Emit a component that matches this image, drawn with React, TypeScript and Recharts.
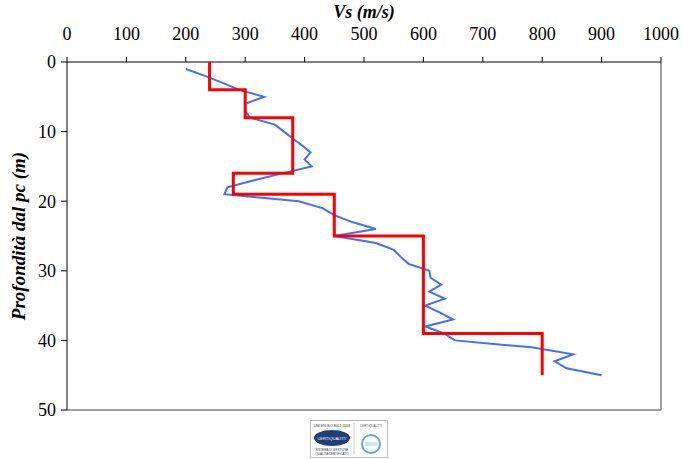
import { ScatterChart, Scatter, XAxis, YAxis, ReferenceLine, Label } from 'recharts'

// modello a strati (linea rossa)
const modelDepth = [0, 4, 4, 8, 8, 16, 16, 19, 19, 25, 25, 39, 39, 45]
const modelVs = [240, 240, 300, 300, 380, 380, 280, 280, 450, 450, 600, 600, 800, 800]

// profilo misurato (linea blu)
const profileDepth = [
  1, 2, 3, 4, 5, 6, 7, 8, 9, 10, 11, 12, 13, 14, 15, 16, 17, 18, 19, 20, 21, 22, 23,
  24, 25, 26, 27, 28, 29, 30, 31, 32, 33, 34, 35, 36, 37, 38, 39, 40, 41, 42, 43, 44, 45,
]
const profileVs = [
  200, 232, 262, 290, 332, 300, 300, 308, 350, 365, 380, 396, 410, 400, 412, 362, 315,
  270, 265, 390, 430, 450, 480, 520, 450, 520, 550, 562, 575, 610, 612, 630, 610, 636,
  603, 628, 650, 603, 635, 653, 782, 852, 821, 841, 900,
]

const xTicks = [0, 100, 200, 300, 400, 500, 600, 700, 800, 900, 1000]
const yTicks = [0, 10, 20, 30, 40, 50]

const model = modelDepth.map((d, i) => ({ depth: d, vs: modelVs[i] }))
const profile = profileDepth.map((d, i) => ({ depth: d, vs: profileVs[i] }))

const font = '"Liberation Serif", "Times New Roman", serif'
const noDot = () => <g />

function Logo() {
  return (
    <svg width={78} height={38} style={{ position: 'absolute', left: 310, top: 420 }}>
      <rect x={0.5} y={0.5} width={77} height={37} fill="#fff" stroke="#bbb" />
      <line x1={44} y1={3} x2={44} y2={35} stroke="#ccc" />
      <text x={22} y={7} fontSize={3.5} textAnchor="middle" fill="#333" fontFamily="sans-serif">
        UNI EN ISO 9001:2008
      </text>
      <ellipse cx={22} cy={18} rx={18} ry={8} fill="#1f3f7a" />
      <text x={22} y={20} fontSize={4} textAnchor="middle" fill="#fff" fontFamily="sans-serif">
        CERTIQUALITY
      </text>
      <text x={22} y={31} fontSize={3} textAnchor="middle" fill="#333" fontFamily="sans-serif">
        SISTEMA DI GESTIONE
      </text>
      <text x={22} y={35} fontSize={3} textAnchor="middle" fill="#333" fontFamily="sans-serif">
        QUALITA CERTIFICATO
      </text>
      <text x={61} y={7} fontSize={3} textAnchor="middle" fill="#555" fontFamily="sans-serif">
        CERTIQUALITY
      </text>
      <circle cx={61} cy={24} r={9} fill="none" stroke="#5fa8dc" strokeWidth={2} />
      <rect x={55} y={22} width={12} height={4} fill="#cfe3f3" />
    </svg>
  )
}

export default function App() {
  return (
    <div style={{ position: 'absolute', left: 0, top: 0, width: 683, height: 459, background: '#fff' }}>
      <ScatterChart
        width={683}
        height={459}
        margin={{ top: 32, right: 22, bottom: 49, left: 27 }}
        style={{ fontFamily: font }}
      >
        <XAxis
          type="number"
          dataKey="vs"
          orientation="top"
          domain={[0, 1000]}
          ticks={xTicks}
          height={30}
          tickSize={5}
          tickMargin={17}
          axisLine={{ stroke: '#000' }}
          tickLine={{ stroke: '#000' }}
          tick={{ fill: '#000', fontSize: 18, fontFamily: font }}
        >
          <Label
            value="Vs (m/s)"
            position="top"
            offset={14}
            style={{ fill: '#000', fontSize: 18, fontWeight: 'bold', fontStyle: 'italic', fontFamily: font }}
          />
        </XAxis>
        <YAxis
          type="number"
          dataKey="depth"
          reversed
          domain={[0, 50]}
          ticks={yTicks}
          width={40}
          tickSize={6}
          tickMargin={5}
          axisLine={{ stroke: '#000' }}
          tickLine={{ stroke: '#000' }}
          tick={{ fill: '#000', fontSize: 18, fontFamily: font }}
        >
          <Label
            value="Profondità dal pc (m)"
            angle={-90}
            position="insideLeft"
            offset={-9}
            style={{
              textAnchor: 'middle',
              fill: '#000',
              fontSize: 19,
              fontWeight: 'bold',
              fontStyle: 'italic',
              fontFamily: font,
            }}
          />
        </YAxis>
        <ReferenceLine x={1000} stroke="#808080" strokeWidth={1.5} />
        <ReferenceLine y={50} stroke="#808080" strokeWidth={1.5} />
        <Scatter
          data={profile}
          line={{ stroke: '#3f6fff', strokeWidth: 2 }}
          lineType="joint"
          shape={noDot}
          isAnimationActive={false}
        />
        <Scatter
          data={model}
          line={{ stroke: '#ff0000', strokeWidth: 3 }}
          lineType="joint"
          shape={noDot}
          isAnimationActive={false}
        />
      </ScatterChart>
      <Logo />
    </div>
  )
}
